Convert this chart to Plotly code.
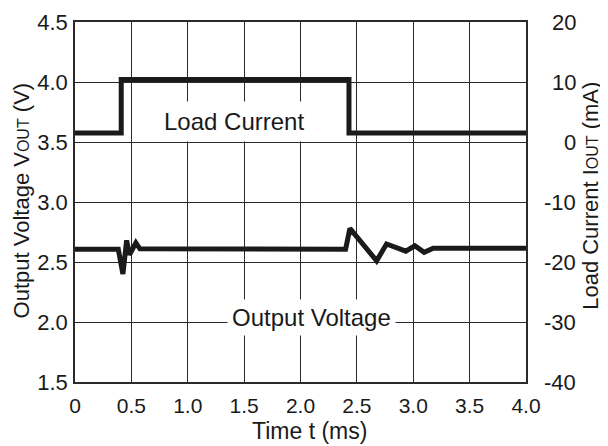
import plotly.graph_objects as go

# ---- data ----
t_load = [0, 0.41, 0.41, 2.43, 2.43, 4.0]
i_load = [1.5, 1.5, 10.4, 10.4, 1.5, 1.5]          # mA (right axis)

t_vout = [0, 0.384, 0.425, 0.458, 0.483, 0.54, 0.576, 2.40, 2.438, 2.675, 2.763, 2.934, 3.014, 3.097, 3.177, 4.0]
v_out = [2.606, 2.606, 2.40, 2.68, 2.56, 2.66, 2.61, 2.607, 2.78, 2.51, 2.65, 2.59, 2.635, 2.58, 2.614, 2.614]  # V

x_ticks = [0, 0.5, 1.0, 1.5, 2.0, 2.5, 3.0, 3.5, 4.0]
x_tick_text = ["0", "0.5", "1.0", "1.5", "2.0", "2.5", "3.0", "3.5", "4.0"]
yl_ticks = [1.5, 2.0, 2.5, 3.0, 3.5, 4.0, 4.5]
yl_tick_text = ["1.5", "2.0", "2.5", "3.0", "3.5", "4.0", "4.5"]
yr_ticks = [-40, -30, -20, -10, 0, 10, 20]
yr_tick_text = ["-40", "-30", "-20", "-10", "0", "10", "20"]

FONT = "Liberation Sans, Arial, sans-serif"
INK = "#1a1a1a"
GRID = "#2a2a2a"

fig = go.Figure()
fig.add_trace(go.Scatter(x=t_vout, y=v_out, mode="lines",
                         line=dict(color=INK, width=5), yaxis="y", showlegend=False))
fig.add_trace(go.Scatter(x=t_load, y=i_load, mode="lines",
                         line=dict(color=INK, width=5, shape="linear"), yaxis="y2", showlegend=False))

annotations = []
# right-axis tick labels (right aligned)
for v, txt in zip(yr_ticks, yr_tick_text):
    annotations.append(dict(x=1.1153, xref="paper", y=v, yref="y2", text=txt,
                            showarrow=False, xanchor="right", yanchor="middle",
                            font=dict(family=FONT, size=22, color=INK)))
# axis titles
annotations.append(dict(x=-0.1186, xref="paper", y=0.503, yref="paper",
                        text="Output Voltage V<span style='font-size:16px'>OUT</span> (V)",
                        textangle=-90, showarrow=False, xanchor="center", yanchor="middle",
                        font=dict(family=FONT, size=22, color=INK)))
annotations.append(dict(x=1.144, xref="paper", y=0.517, yref="paper",
                        text="Load Current I<span style='font-size:16px'>OUT</span> (mA)",
                        textangle=-90, showarrow=False, xanchor="center", yanchor="middle",
                        font=dict(family=FONT, size=22, color=INK)))
annotations.append(dict(x=0.521, xref="paper", y=-0.135, yref="paper",
                        text="Time t (ms)", showarrow=False, xanchor="center", yanchor="middle",
                        font=dict(family=FONT, size=23, color=INK)))
# in-plot labels with white boxes
annotations.append(dict(x=1.414, xref="x", y=3.67, yref="y", text="Load Current",
                        showarrow=False, bgcolor="white", borderpad=6,
                        font=dict(family=FONT, size=24, color=INK)))
annotations.append(dict(x=2.097, xref="x", y=2.04, yref="y", text="Output Voltage",
                        showarrow=False, bgcolor="white", borderpad=4,
                        font=dict(family=FONT, size=24, color=INK)))

fig.update_layout(
    width=600, height=438,
    margin=dict(l=67, r=82, t=14, b=64),
    paper_bgcolor="white", plot_bgcolor="white",
    font=dict(family=FONT, size=22, color=INK),
    xaxis=dict(range=[0, 4.0], tickvals=x_ticks, ticktext=x_tick_text,
               showgrid=True, gridcolor=GRID, gridwidth=1.3,
               showline=True, linecolor=GRID, linewidth=1.5, mirror=True,
               ticks="", ticklabelstandoff=4, zeroline=False, automargin=False,
               tickfont=dict(family=FONT, size=21, color=INK)),
    yaxis=dict(range=[1.5, 4.5], tickvals=yl_ticks, ticktext=yl_tick_text,
               showgrid=True, gridcolor=GRID, gridwidth=1.3,
               showline=True, linecolor=GRID, linewidth=1.5, mirror=True,
               ticks="", ticklabelstandoff=1, zeroline=False, automargin=False,
               tickfont=dict(family=FONT, size=22, color=INK)),
    yaxis2=dict(range=[-40, 20], overlaying="y", side="right", automargin=False,
                showgrid=False, zeroline=False, showticklabels=False, ticks=""),
    annotations=annotations,
)

fig.write_html("out.html")
